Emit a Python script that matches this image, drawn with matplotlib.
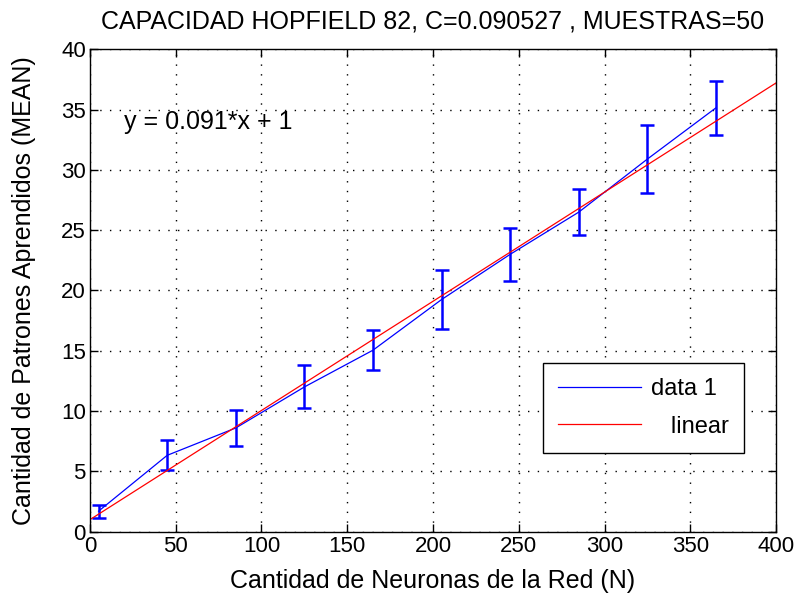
import matplotlib
matplotlib.use("Agg")
import matplotlib.pyplot as plt
import numpy as np

# neurons in the net, mean learned patterns and std over 50 samples
neurons = [5, 45, 85, 125, 165, 205, 245, 285, 325, 365]
patterns_mean = [1.7, 6.33, 8.6, 12.0, 15.05, 19.25, 23.0, 26.5, 30.9, 35.15]
patterns_err = [0.55, 1.25, 1.5, 1.78, 1.65, 2.45, 2.2, 1.9, 2.85, 2.25]

# linear fit (basic fitting)
fit_slope = 0.090527
fit_intercept = 1.0
fit_x = [0, 400]

xticks = [0, 50, 100, 150, 200, 250, 300, 350, 400]
yticks = [0, 5, 10, 15, 20, 25, 30, 35, 40]

plt.rcParams.update({
    "font.family": ["Liberation Sans", "DejaVu Sans"],
    "font.size": 18,
})
BLUE, RED = "#0000ff", "#ff0000"

fig = plt.figure(figsize=(7.97, 6.05), dpi=100)
ax = fig.add_axes([0.1129, 0.1212, 0.8608, 0.7973])

ax.plot(neurons, patterns_mean, color=BLUE, linewidth=0.9, label="data 1")
ax.errorbar(neurons, patterns_mean, yerr=patterns_err, fmt="none", ecolor=BLUE,
            elinewidth=1.8, capsize=4.8, capthick=1.8)
fx = np.array(fit_x, dtype=float)
ax.plot(fx, fit_slope * fx + fit_intercept, color=RED, linewidth=0.9,
        label="   linear")

ax.text(20, 34, "y = 0.091*x + 1", ha="left", va="center", fontsize=18)

ax.set_xlim(0, 400)
ax.set_ylim(0, 40)
ax.set_xticks(xticks)
ax.set_yticks(yticks)
ax.grid(True, color="black", linestyle=(0, (1, 6)), linewidth=1.0)
ax.set_axisbelow(True)
ax.tick_params(direction="in", length=6, width=1, top=True, right=True,
               labelsize=16, pad=3)
for s in ax.spines.values():
    s.set_linewidth(1.0)

ax.set_title("CAPACIDAD HOPFIELD 82, C=0.090527 , MUESTRAS=50", fontsize=18, pad=15)
ax.set_xlabel("Cantidad de Neuronas de la Red (N)", fontsize=18, labelpad=9)
ax.set_ylabel("Cantidad de Patrones Aprendidos (MEAN)", fontsize=18, labelpad=18)

leg = ax.legend(loc="lower left", bbox_to_anchor=(0.660, 0.163), borderaxespad=0,
                fancybox=False, edgecolor="black", framealpha=1, fontsize=17,
                handlelength=3.5, handletextpad=0.42, borderpad=0.65,
                labelspacing=0.65)
leg.get_frame().set_linewidth(1.0)

fig.savefig("out.png", dpi=100)
